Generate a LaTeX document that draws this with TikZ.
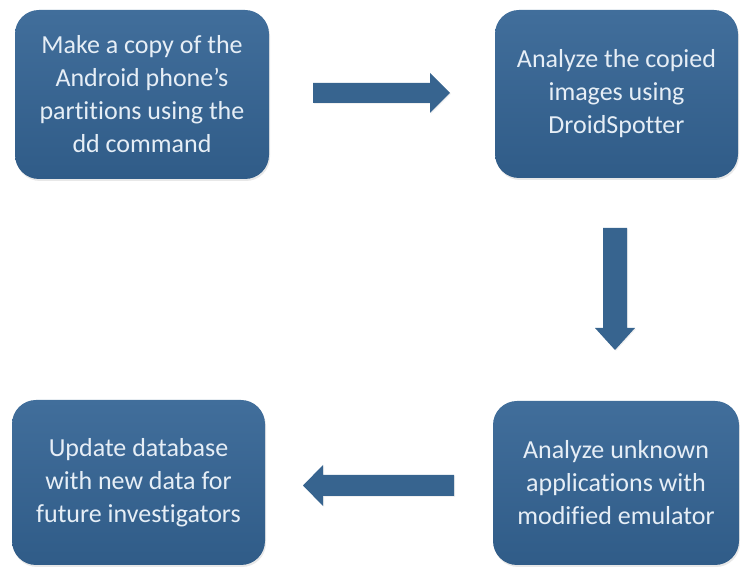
\documentclass[tikz,border=0pt]{standalone}
\usepackage{fontspec}
\setmainfont[Ligatures={NoCommon}]{Carlito}
\usetikzlibrary{shadows}
\definecolor{boxtop}{HTML}{416E9B}
\definecolor{boxbot}{HTML}{305C88}
\definecolor{boxtext}{HTML}{E6EEF6}
\definecolor{arrowfill}{HTML}{37648F}
\tikzset{
  stepbox/.style={rounded corners=24pt, top color=boxtop, bottom color=boxbot,
    draw=none, text=boxtext, align=center, inner sep=0pt,
    font=\fontsize{26}{33}\selectfont,
    drop shadow={opacity=0.18, shadow xshift=1pt, shadow yshift=-2pt}},
  blockarrow/.style={fill=arrowfill, draw=none,
    drop shadow={opacity=0.12, shadow xshift=1pt, shadow yshift=-1pt}}
}
\begin{document}
\begin{tikzpicture}[x=1pt,y=1pt]
\useasboundingbox (0,0) rectangle (740,567);
% boxes (y measured upward: y = 567 - pixel row)
\node[stepbox, minimum width=254pt, minimum height=169pt] (copy) at (142,472.5)
  {Make a copy of the\\Android phone’s\\partitions using the\\dd command};
\node[stepbox, minimum width=243pt, minimum height=168pt] (analyze) at (616.5,473)
  {Analyze the copied\\images using\\DroidSpotter};
\node[stepbox, minimum width=246pt, minimum height=164pt] (emu) at (616,84)
  {Analyze unknown\\applications with\\modified emulator};
\node[stepbox, minimum width=253pt, minimum height=165pt] (update) at (138.5,84.5)
  {Update database\\with new data for\\future investigators};
% block arrows
\coordinate (r1) at (313,474);
\coordinate (d1) at (615,339);
\coordinate (l1) at (454,81.5);
\fill[blockarrow] (r1) ++(0,10) -- ++(117,0) -- ++(0,10) -- ++(20,-20) -- ++(-20,-20) -- ++(0,10) -- ++(-117,0) -- cycle;
\fill[blockarrow] (d1) ++(-12,0) -- ++(0,-100) -- ++(-8,0) -- ++(20,-22) -- ++(20,22) -- ++(-8,0) -- ++(0,100) -- cycle;
\fill[blockarrow] (l1) ++(0,10.5) -- ++(-131,0) -- ++(0,10) -- ++(-20,-20.5) -- ++(20,-20.5) -- ++(0,10) -- ++(131,0) -- cycle;
\end{tikzpicture}
\end{document}
